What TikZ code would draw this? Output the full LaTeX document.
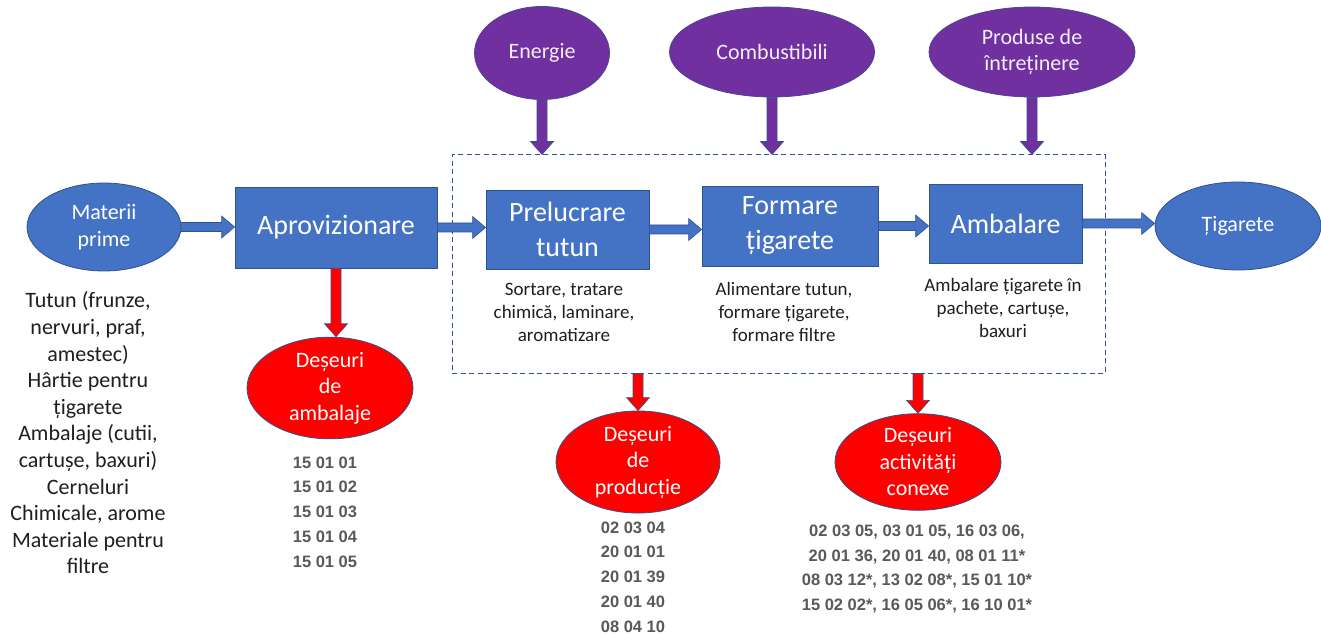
\documentclass[tikz,border=0pt]{standalone}
\usepackage{fontspec}
\setmainfont{Carlito}
\newfontfamily\codefont{Liberation Sans}
\usetikzlibrary{calc,shapes.geometric}
\definecolor{cblue}{HTML}{4472C4}
\definecolor{cborder}{HTML}{2F528F}
\definecolor{cpurple}{HTML}{7030A0}
\definecolor{cred}{HTML}{FF0000}
\definecolor{ccode}{HTML}{595959}
\definecolor{ctext}{HTML}{1F1F1F}
% horizontal block arrow: style, from, to
\newcommand\harr[3]{%
  \path[#1] let \p1=(#2), \p2=(#3) in
    (\x1,\y1+4.5pt) -- (\x2-13pt,\y1+4.5pt) -- (\x2-13pt,\y1+11pt) -- (\x2,\y1)
    -- (\x2-13pt,\y1-11pt) -- (\x2-13pt,\y1-4.5pt) -- (\x1,\y1-4.5pt) -- cycle;}
% vertical (downward) block arrow: style, from, to
\newcommand\varr[3]{%
  \path[#1] let \p1=(#2), \p2=(#3) in
    (\x1-5pt,\y1) -- (\x1-5pt,\y2+13pt) -- (\x1-11.5pt,\y2+13pt) -- (\x1,\y2)
    -- (\x1+11.5pt,\y2+13pt) -- (\x1+5pt,\y2+13pt) -- (\x1+5pt,\y1) -- cycle;}
\begin{document}
\begin{tikzpicture}[x=1pt,y=-1pt,
  box/.style={rectangle, fill=cblue, draw=cborder, line width=0.8pt, text=white,
    font=\fontsize{28}{35}\selectfont, align=center, inner sep=0pt},
  ell/.style={ellipse, line width=0.8pt, text=white, align=center, inner sep=0pt,
    font=\fontsize{22}{26.5}\selectfont},
  blueell/.style={ell, fill=cblue, draw=cborder},
  purpell/.style={ell, fill=cpurple, draw=cborder!60!cpurple, text=white!92!cpurple},
  redell/.style={ell, fill=cred, draw=cborder},
  blkblue/.style={fill=cblue, draw=cborder, line width=0.6pt},
  blkred/.style={fill=cred, draw=cborder, line width=0.6pt},
  blkpurp/.style={fill=cpurple, draw=cborder, line width=0.6pt},
  listtxt/.style={align=center, inner sep=0pt, text=ctext, font=\fontsize{22}{26.6}\selectfont},
  desctxt/.style={align=center, inner sep=0pt, text=ctext, font=\fontsize{19}{23}\selectfont},
  codetxt/.style={align=center, inner sep=0pt, text=ccode, font=\codefont\bfseries\fontsize{16.5}{24.7}\selectfont},
  procbox/.style={rectangle, draw=cborder, line width=1pt, dash pattern=on 5pt off 3.5pt, inner sep=0pt}
]
\useasboundingbox (0,0) rectangle (1321,636);
\fill[white] (0,0) rectangle (1321,636);

% dashed process boundary
\node[procbox, minimum width=653pt, minimum height=218pt] (proc) at (778.5,264) {};

% main nodes
\node[blueell, minimum width=154pt, minimum height=88pt] (materii) at (104,227) {Materii\\prime};
\node[box, minimum width=202pt, minimum height=81pt] (aprov) at (336,227.5) {Aprovizionare};
\node[box, minimum width=163pt, minimum height=79pt] (prel) at (567.5,229.5) {Prelucrare\\tutun};
\node[box, minimum width=176pt, minimum height=80pt] (form) at (790,226) {Formare\\țigarete};
\node[box, minimum width=153pt, minimum height=79pt] (amb) at (1005.5,223.5) {Ambalare};
\node[blueell, minimum width=166pt, minimum height=88pt] (tig) at (1238,226) {Țigarete};

% inputs
\node[purpell, minimum width=135pt, minimum height=93pt] (energie) at (542,53) {Energie};
\node[purpell, minimum width=205pt, minimum height=90pt] (comb) at (772,52) {Combustibili};
\node[purpell, minimum width=206pt, minimum height=90pt] (prod) at (1032,52) {Produse de\\întreținere};

% wastes
\node[redell, minimum width=166pt, minimum height=90pt] (dambal) at (330,388) {Deșeuri\\de\\ambalaje};
\node[redell, minimum width=164pt, minimum height=90pt] (dprod) at (638,462) {Deșeuri\\de\\producție};
\node[redell, minimum width=166pt, minimum height=88pt] (dact) at (918,462) {Deșeuri\\activități\\conexe};

% texts
\node[listtxt] (mlist) at (88,433) {Tutun (frunze,\\nervuri, praf,\\amestec)\\Hârtie pentru\\țigarete\\Ambalaje (cutii,\\cartușe, baxuri)\\Cerneluri\\Chimicale, arome\\Materiale pentru\\filtre};
\node[desctxt] (preld) at (564,312) {Sortare, tratare\\chimică, laminare,\\aromatizare};
\node[desctxt] (formd) at (784,312) {Alimentare tutun,\\formare țigarete,\\formare filtre};
\node[desctxt] (ambd) at (1003,308) {Ambalare țigarete în\\pachete, cartușe,\\baxuri};

\node[codetxt] (cambal) at (325,512) {15 01 01\\15 01 02\\15 01 03\\15 01 04\\15 01 05};
\node[codetxt] (cprod) at (633,577) {02 03 04\\20 01 01\\20 01 39\\20 01 40\\08 04 10};
\node[codetxt] (cact) at (917,569) {02 03 05, 03 01 05, 16 03 06,\\20 01 36, 20 01 40, 08 01 11*\\08 03 12*, 13 02 08*, 15 01 10*\\15 02 02*, 16 05 06*, 16 10 01*};

% connector end points on the dashed boundary
\coordinate (eIn) at (energie.south |- proc.north);
\coordinate (cIn) at (comb.south |- proc.north);
\coordinate (pIn) at (prod.south |- proc.north);
\coordinate (dpOut) at (dprod.north |- proc.south);
\coordinate (daOut) at (dact.north |- proc.south);

% flow arrows
\harr{blkblue}{materii.east}{aprov.west}
\harr{blkblue}{aprov.east}{prel.west}
\harr{blkblue}{prel.east}{form.west}
\harr{blkblue}{form.east}{amb.west}
\harr{blkblue}{amb.east}{tig.west}

\varr{blkpurp}{energie.south}{eIn}
\varr{blkpurp}{comb.south}{cIn}
\varr{blkpurp}{prod.south}{pIn}

\varr{blkred}{aprov.south}{dambal.north}
\varr{blkred}{dpOut}{dprod.north}
\varr{blkred}{daOut}{dact.north}
\end{tikzpicture}
\end{document}
